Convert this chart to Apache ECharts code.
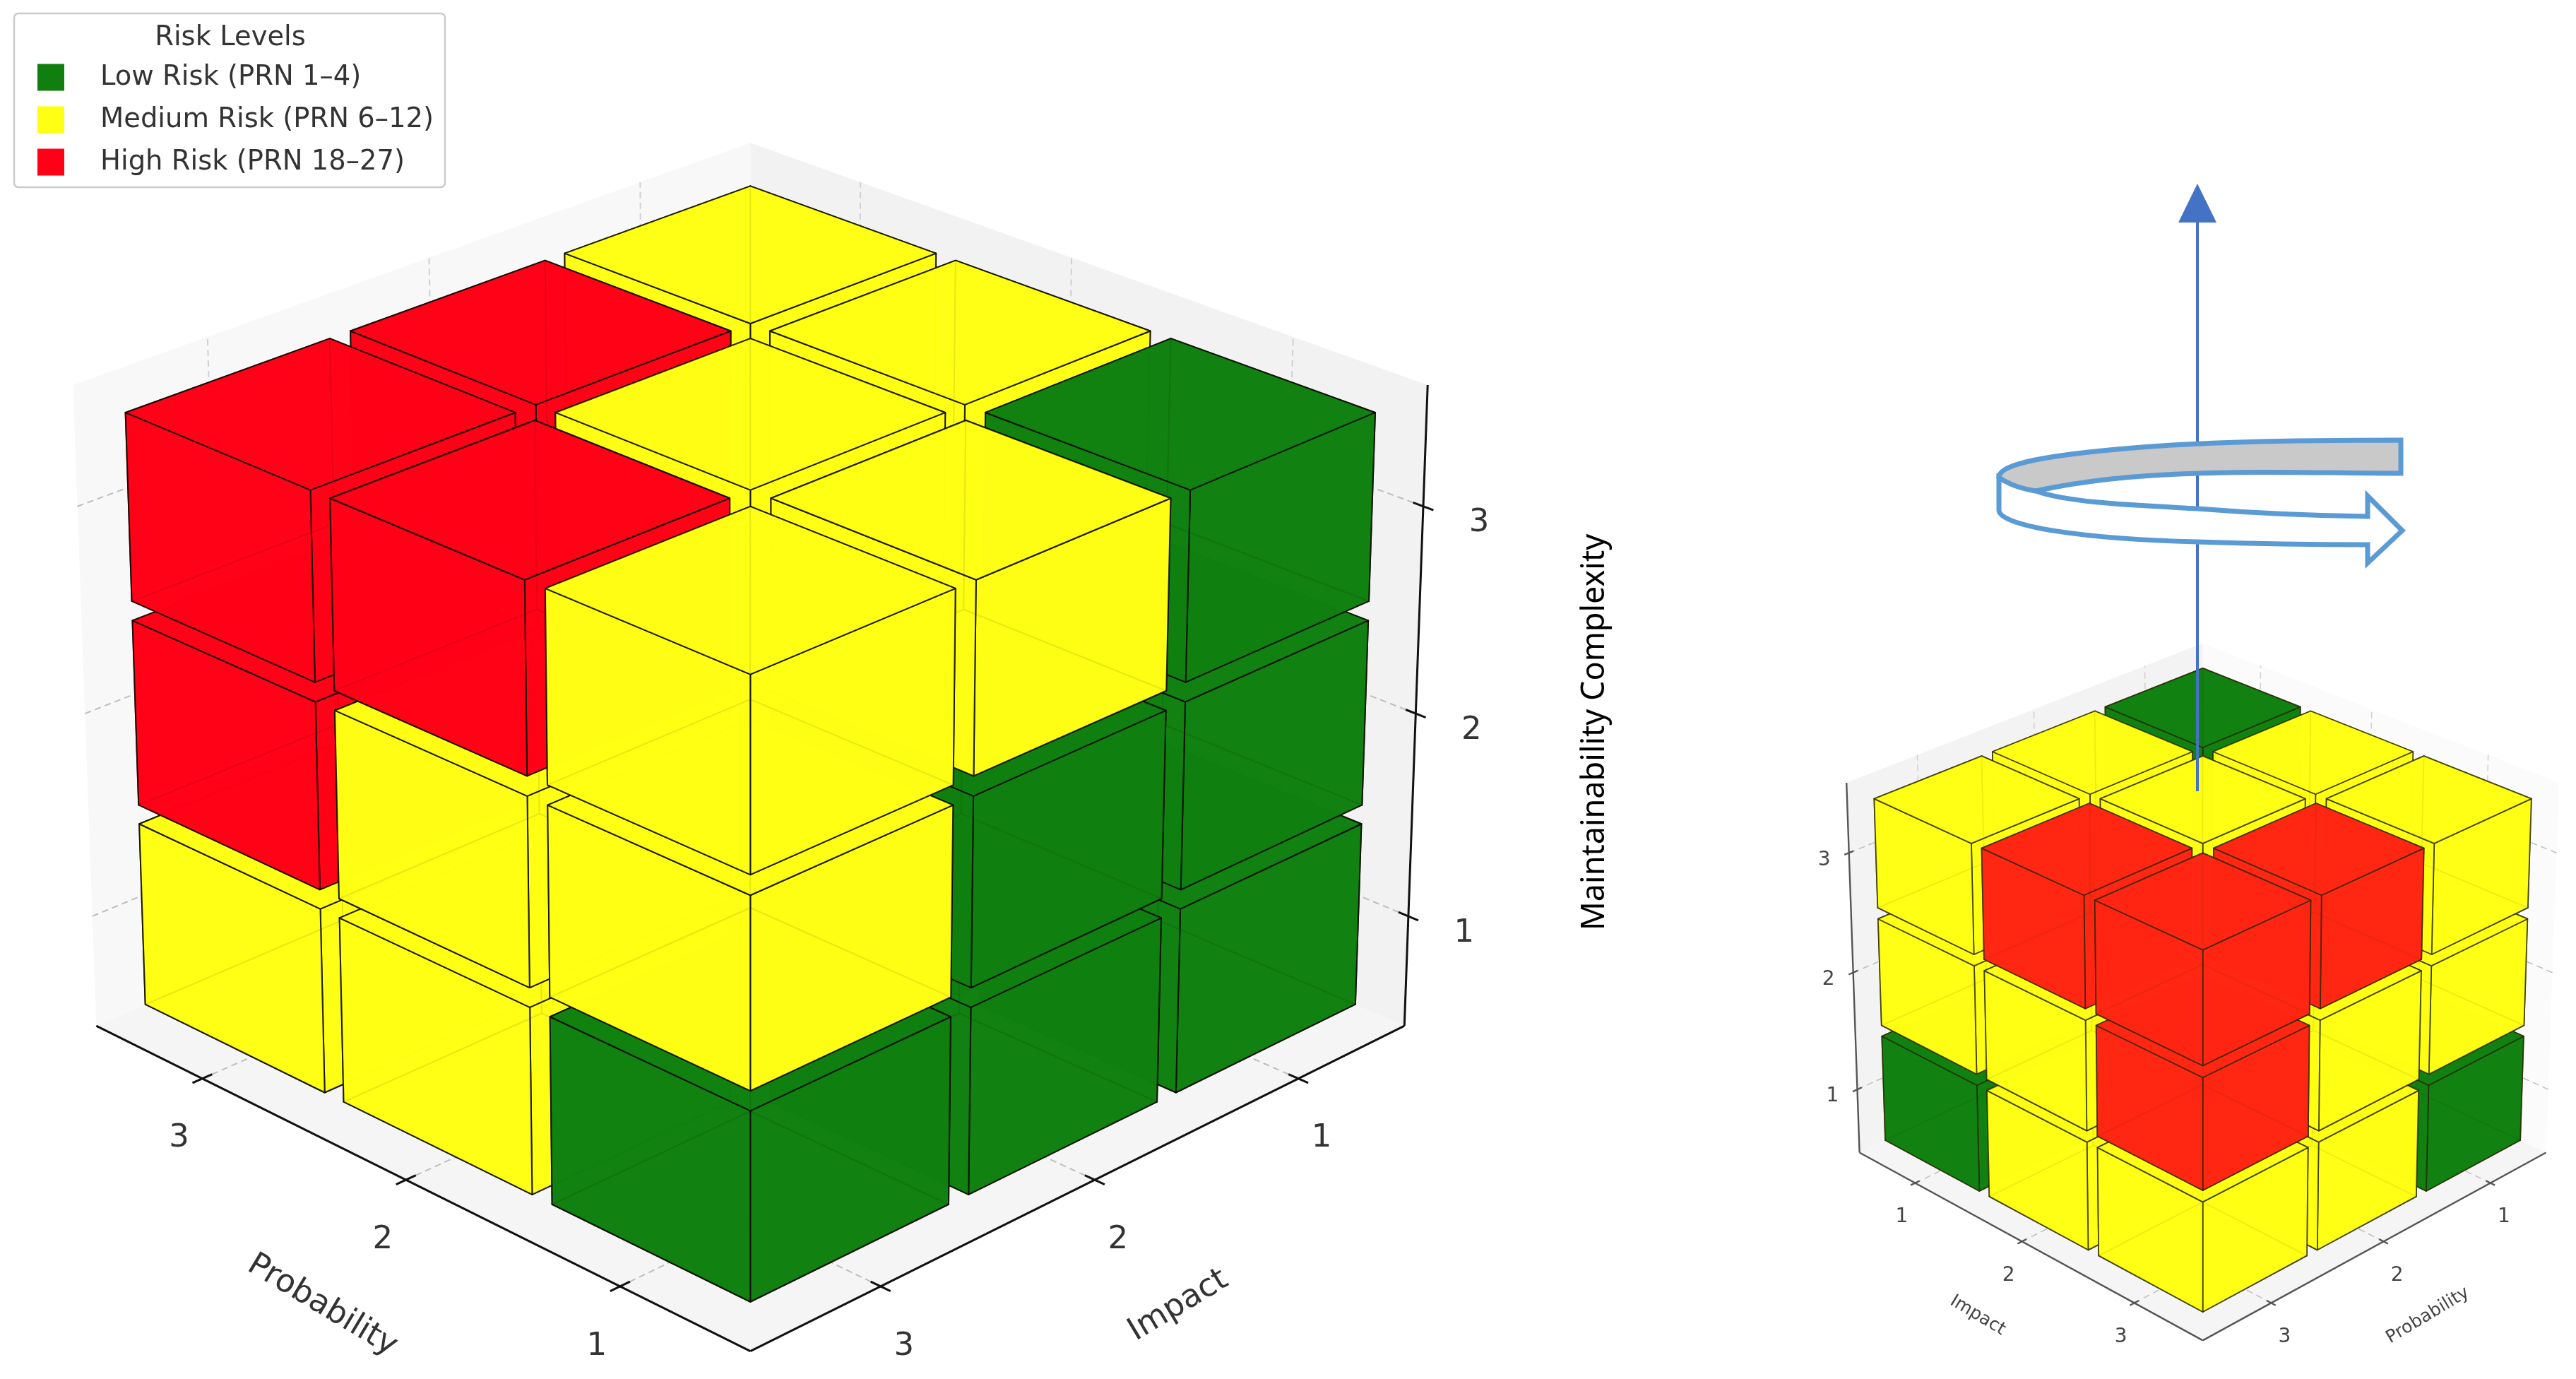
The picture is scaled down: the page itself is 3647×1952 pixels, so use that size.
<!DOCTYPE html>
<html>
<head>
<meta charset="utf-8">
<title>Risk cube</title>
<style>
    html, body { margin: 0; padding: 0; background: #fff; }
    #chart { width: 3647px; height: 1952px; }
</style>
<script src="https://cdn.jsdelivr.net/npm/echarts@6/dist/echarts.min.js"></script>
</head>
<body>
<div id="chart"></div>
<script>
const tickValues = [1, 2, 3];
const cellProbability = [1, 1, 1, 1, 1, 1, 1, 1, 1, 2, 2, 2, 2, 2, 2, 2, 2, 2, 3, 3, 3, 3, 3, 3, 3, 3, 3];
const cellImpact = [1, 1, 1, 2, 2, 2, 3, 3, 3, 1, 1, 1, 2, 2, 2, 3, 3, 3, 1, 1, 1, 2, 2, 2, 3, 3, 3];
const cellComplexity = [1, 2, 3, 1, 2, 3, 1, 2, 3, 1, 2, 3, 1, 2, 3, 1, 2, 3, 1, 2, 3, 1, 2, 3, 1, 2, 3];
const cellPrn = [1, 2, 3, 2, 4, 6, 3, 6, 9, 2, 4, 6, 4, 8, 12, 6, 12, 18, 3, 6, 9, 6, 12, 18, 9, 18, 27];
const riskNames = ['Low Risk (PRN 1–4)', 'Medium Risk (PRN 6–12)', 'High Risk (PRN 18–27)'];
const riskUpperPrn = [4, 12, 27];
const mainColors = ['#107F10', '#FFFF14', '#FF0016'];
const sideColors = ['#107F10', '#FFFF14', '#FF2613'];

const FONT = '"DejaVu Sans"';
const AXIS_SPAN = 3.125;

// camera fitted to each cube: plane position = (origin + linear part) / perspective divide
const mainView = {
    cx: 1062.3, K: 1001.9, w: 0.082, t: -0.0372, y0: 1912.6, Ya: -341.5, Yh: -1001.7,
    toA: (p, i) => p, toB: (p, i) => 4 - i,
    faceStroke: 'rgba(10,10,0,0.85)', faceWidth: 2, axisColor: '#111', axisWidth: 3,
    tickSize: 45, labelDx: 33, labelDy: 85, labelColor: '#333',
    titleSize: 45, titleDx: 125, titleDy: 175,
    zDx: 79, zDy: 24, aTitle: 'Probability', bTitle: 'Impact',
    walls: ['#F8F8F8', '#F2F2F2', '#F5F5F5'], zAtLeft: false, gridWidth: 2, tickLen: 0.014
};
const sideView = {
    cx: 3118.6, K: 526.3, w: 0.083, t: -0.0396, y0: 1897.4, Ya: -130.5, Yh: -610.8,
    toA: (p, i) => 4 - i, toB: (p, i) => 4 - p,
    faceStroke: 'rgba(40,40,0,0.75)', faceWidth: 1.8, axisColor: '#555', axisWidth: 2.4,
    tickSize: 28, labelDx: 19, labelDy: 48, labelColor: '#444',
    titleSize: 25, titleDx: 66, titleDy: 103,
    zDx: -35, zDy: 10, aTitle: 'Impact', bTitle: 'Probability',
    walls: ['#F3F3F3', '#FBFBFB', '#F5F5F5'], zAtLeft: true, gridWidth: 1.5, tickLen: 0.012
};

function axisFrac(v) {
    return (v - 0.416) / AXIS_SPAN;
}

function levelFrac(v) {
    return (v - 0.45) / AXIS_SPAN;
}

// a runs towards the left of the picture, b towards the right
function project(view, a, b, h) {
    const w = 1 + view.w * (a + b) + view.t * h;
    return [view.cx + view.K * (b - a) / w, (view.y0 + view.Ya * (a + b) + view.Yh * h) / w];
}

function renderCube(view) {
    return function (params, api) {
        const p = api.value(0);
        const i = api.value(1);
        const l = api.value(2);
        const color = api.visual('color');
        const na = view.toA(p, i);
        const nb = view.toB(p, i);
        const a0 = axisFrac(na - 0.3625);
        const a1 = axisFrac(na + 0.544);
        const b0 = axisFrac(nb - 0.3625);
        const b1 = axisFrac(nb + 0.544);
        const h0 = levelFrac(l - 0.55);
        const h1 = levelFrac(l + 0.356);
        const pt = (a, b, h) => api.coord(project(view, a, b, h));
        const faces = [
            [pt(a0, b0, h0), pt(a1, b0, h0), pt(a1, b1, h0), pt(a0, b1, h0)],
            [pt(a1, b0, h0), pt(a1, b1, h0), pt(a1, b1, h1), pt(a1, b0, h1)],
            [pt(a0, b1, h0), pt(a1, b1, h0), pt(a1, b1, h1), pt(a0, b1, h1)],
            [pt(a0, b0, h0), pt(a0, b1, h0), pt(a0, b1, h1), pt(a0, b0, h1)],
            [pt(a0, b0, h0), pt(a1, b0, h0), pt(a1, b0, h1), pt(a0, b0, h1)],
            [pt(a0, b0, h1), pt(a1, b0, h1), pt(a1, b1, h1), pt(a0, b1, h1)]
        ];
        // painter order runs across the three risk series, far cells first
        const order = ((3 - na) * 9 + (3 - nb) * 3 + l) * 10;
        return {
            type: 'group',
            children: faces.map((points, k) => ({
                type: 'polygon',
                z2: order + k,
                shape: { points: points },
                style: {
                    fill: color,
                    fillOpacity: 0.9,
                    stroke: view.faceStroke,
                    lineWidth: view.faceWidth,
                    lineJoin: 'round'
                }
            }))
        };
    };
}

function renderFrame(view) {
    return function (params, api) {
        const pt = (a, b, h) => api.coord(project(view, a, b, h));
        const children = [];
        const pane = (points, fill) => children.push({
            type: 'polygon', shape: { points: points }, style: { fill: fill }
        });
        const line = (from, to, stroke, width, dash) => children.push({
            type: 'line',
            shape: { x1: from[0], y1: from[1], x2: to[0], y2: to[1] },
            style: { stroke: stroke, lineWidth: width, lineDash: dash || null }
        });
        const text = (label, at, size, fill, rotation, family) => children.push({
            type: 'text',
            x: at[0],
            y: at[1],
            rotation: rotation || 0,
            style: {
                text: label, fill: fill, fontSize: size, fontFamily: family || FONT,
                align: 'center', verticalAlign: 'middle'
            }
        });
        const dash = [9, 6];

        pane([pt(1, 0, 0), pt(1, 1, 0), pt(1, 1, 1), pt(1, 0, 1)], view.walls[0]);
        pane([pt(0, 1, 0), pt(1, 1, 0), pt(1, 1, 1), pt(0, 1, 1)], view.walls[1]);
        pane([pt(0, 0, 0), pt(1, 0, 0), pt(1, 1, 0), pt(0, 1, 0)], view.walls[2]);

        tickValues.forEach((v) => {
            const f = axisFrac(v);
            const hf = levelFrac(v);
            line(pt(f, 0, 0), pt(f, 1, 0), '#BDBDBD', view.gridWidth, dash);
            line(pt(0, f, 0), pt(1, f, 0), '#BDBDBD', view.gridWidth, dash);
            line(pt(f, 1, 0), pt(f, 1, 1), '#D0D0D0', view.gridWidth, dash);
            line(pt(1, f, 0), pt(1, f, 1), '#D0D0D0', view.gridWidth, dash);
            line(pt(1, 0, hf), pt(1, 1, hf), '#BDBDBD', view.gridWidth, dash);
            line(pt(0, 1, hf), pt(1, 1, hf), '#BDBDBD', view.gridWidth, dash);
        });

        line(pt(0, 0, 0), pt(1, 0, 0), view.axisColor, view.axisWidth);
        line(pt(0, 0, 0), pt(0, 1, 0), view.axisColor, view.axisWidth);
        if (view.zAtLeft) {
            line(pt(1, 0, 0), pt(1, 0, 1), view.axisColor, view.axisWidth);
        } else {
            line(pt(0, 1, 0), pt(0, 1, 1), view.axisColor, view.axisWidth);
        }

        tickValues.forEach((v) => {
            const reversed = 4 - v;
            const size = view.tickLen;
            const aF = axisFrac(view === mainView ? v : reversed);
            const bF = axisFrac(reversed);
            const aAt = pt(aF, 0, 0);
            const bAt = pt(0, bF, 0);
            const hF = levelFrac(v);
            line(pt(aF, -size, 0), pt(aF, size, 0), view.axisColor, view.axisWidth);
            line(pt(-size, bF, 0), pt(size, bF, 0), view.axisColor, view.axisWidth);
            text(String(v), [aAt[0] - view.labelDx, aAt[1] + view.labelDy], view.tickSize, view.labelColor);
            text(String(v), [bAt[0] + view.labelDx, bAt[1] + view.labelDy], view.tickSize, view.labelColor);
            const zAt = view.zAtLeft ? pt(1, 0, hF) : pt(0, 1, hF);
            if (view.zAtLeft) {
                line(pt(1, -size, hF), pt(1, size, hF), view.axisColor, view.axisWidth);
            } else {
                line(pt(size, 1, hF), pt(-size, 1, hF), view.axisColor, view.axisWidth);
            }
            text(String(v), [zAt[0] + view.zDx, zAt[1] + view.zDy], view.tickSize, view.labelColor);
        });

        const aMid = pt(0.5, 0, 0);
        const bMid = pt(0, 0.5, 0);
        const slope = 31 * Math.PI / 180;
        text(view.aTitle, [aMid[0] - view.titleDx, aMid[1] + view.titleDy], view.titleSize, view.labelColor, -slope);
        text(view.bTitle, [bMid[0] + view.titleDx, bMid[1] + view.titleDy], view.titleSize, view.labelColor, slope);
        if (!view.zAtLeft) {
            const zMid = pt(0, 1, 0.5);
            text('Maintainability Complexity', [zMid[0] + 254, zMid[1] + 30], 45, '#000', Math.PI / 2, '"Noto Sans"');
        }
        return { type: 'group', children: children };
    };
}

// the rotation symbol above the small cube, drawn on top of it
function renderSpin() {
    const ribbonStroke = '#5B9BD5';
    return {
        type: 'group',
        children: [
            {
                type: 'line',
                shape: { x1: 3111, y1: 1120, x2: 3111, y2: 300 },
                style: { stroke: '#4472C4', lineWidth: 4 }
            },
            {
                type: 'polygon',
                shape: { points: [[3111, 260], [3084, 315], [3138, 315]] },
                style: { fill: '#4472C4' }
            },
            {
                type: 'path',
                shape: { pathData: 'M3399 623 C3250 623 3111 626 3020 634 C2900 644 2830 656 2830 676 Q2850 690 2882 695 C2960 678 3040 672 3111 670 C3200 666 3300 670 3399 670 Z' },
                style: { fill: '#C9C9C9', stroke: ribbonStroke, lineWidth: 7 }
            },
            {
                type: 'path',
                shape: { pathData: 'M2830 676 L2830 722 C2830 745 2950 763 3111 767 C3200 770 3290 771 3352 771 L3352 797 L3401 751 L3352 702 L3352 731 C3280 730 3200 727 3111 720 C3020 715 2930 712 2882 695 Q2850 690 2830 676 Z' },
                style: { fill: '#fff', stroke: ribbonStroke, lineWidth: 7 }
            }
        ]
    };
}

function cellRows(riskIndex) {
    const rows = [];
    cellPrn.forEach((prn, k) => {
        if (riskUpperPrn.findIndex((top) => prn <= top) === riskIndex) {
            rows.push([cellProbability[k], cellImpact[k], cellComplexity[k], prn]);
        }
    });
    return rows;
}

function cubeSeries(view, colors) {
    return riskNames.map((name, r) => ({
        type: 'custom',
        name: name,
        coordinateSystem: 'cartesian2d',
        renderItem: renderCube(view),
        itemStyle: { color: colors[r] },
        data: cellRows(r),
        silent: true,
        clip: false,
        z: 3
    }));
}

function frameSeries(view) {
    return {
        type: 'custom',
        coordinateSystem: 'cartesian2d',
        renderItem: renderFrame(view),
        data: [[0, 0]],
        silent: true,
        clip: false,
        z: 1
    };
}

const chart = echarts.init(document.getElementById('chart'));
chart.setOption({
    animation: false,
    backgroundColor: '#fff',
    grid: { left: 0, right: 0, top: 0, bottom: 0 },
    xAxis: { type: 'value', min: 0, max: 3647, show: false },
    yAxis: { type: 'value', min: 0, max: 1952, inverse: true, show: false },
    title: {
        text: 'Risk Levels',
        left: 321,
        top: 29,
        textAlign: 'center',
        z: 10,
        textStyle: { fontFamily: FONT, fontSize: 38.5, fontWeight: 'normal', color: '#333' }
    },
    legend: {
        data: riskNames,
        orient: 'vertical',
        left: 20,
        top: 19,
        padding: [71, 16, 16, 33],
        icon: 'rect',
        itemWidth: 38,
        itemHeight: 38,
        itemGap: 21,
        backgroundColor: '#fff',
        borderColor: '#CCC',
        borderWidth: 2.5,
        borderRadius: 6,
        selectedMode: false,
        textStyle: { fontFamily: FONT, fontSize: 38.5, color: '#333', padding: [0, 0, 0, 46] }
    },
    series: [frameSeries(mainView), frameSeries(sideView)]
        .concat(cubeSeries(mainView, mainColors), cubeSeries(sideView, sideColors))
        .concat([{
            type: 'custom',
            coordinateSystem: 'cartesian2d',
            renderItem: renderSpin,
            data: [[0, 0]],
            silent: true,
            clip: false,
            z: 5
        }])
});
</script>
</body>
</html>
